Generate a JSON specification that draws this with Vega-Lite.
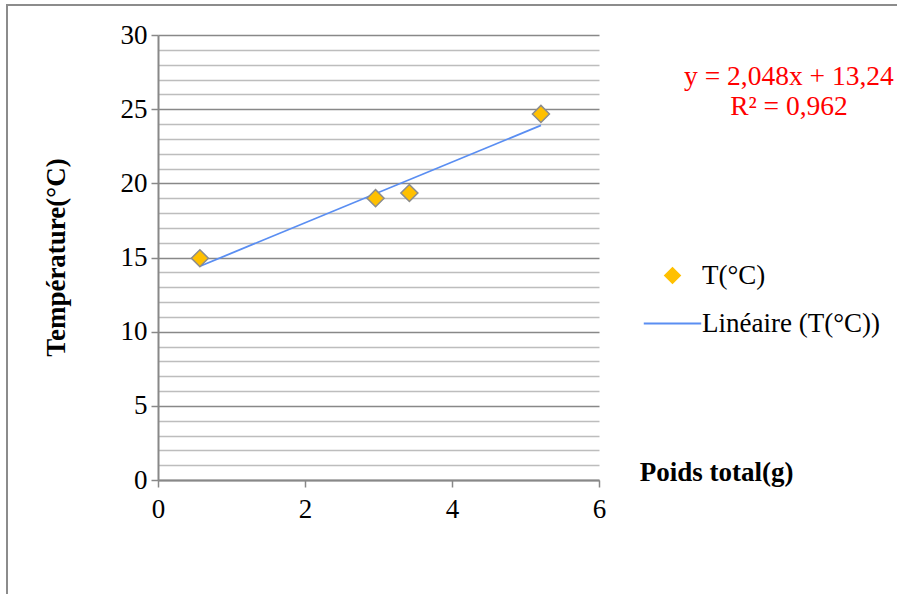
{
  "$schema": "https://vega.github.io/schema/vega-lite/v6.json",
  "width": 895,
  "height": 591,
  "autosize": {"type": "none"},
  "padding": {"left": 7, "top": 5, "right": 0, "bottom": 0},
  "background": "white",
  "config": {
    "view": {"stroke": "#8C8C8C", "strokeWidth": 2},
    "font": "Liberation Serif",
    "axis": {"labelFont": "Liberation Serif", "titleFont": "Liberation Serif", "labelFlush": false},
    "legend": {"labelFont": "Liberation Serif"},
    "text": {"font": "Liberation Serif"}
  },
  "datasets": {
    "points": [
      {"series": "T(°C)", "x": 0.57, "y": 14.95},
      {"series": "T(°C)", "x": 2.96, "y": 19.0},
      {"series": "T(°C)", "x": 3.42, "y": 19.35},
      {"series": "T(°C)", "x": 5.21, "y": 24.68}
    ],
    "trend": [
      {"series": "Linéaire (T(°C))", "x": 0.57, "y": 14.41},
      {"series": "Linéaire (T(°C))", "x": 5.21, "y": 23.91}
    ],
    "eq": [
      {"x": 8.585, "y": 27.17, "label": "y = 2,048x + 13,24\nR² = 0,962"}
    ]
  },
  "encoding": {
    "x": {
      "field": "x", "type": "quantitative",
      "scale": {"domain": [0, 6], "range": [151, 592], "nice": false, "zero": false},
      "axis": {
        "orient": "bottom", "offset": -116, "values": [0, 2, 4, 6], "format": "d", "grid": false,
        "domainColor": "#888888", "domainWidth": 2,
        "tickColor": "#888888", "tickSize": 7, "tickWidth": 1.5,
        "labelFont": "Liberation Serif", "labelFontSize": 27, "labelColor": "black", "labelPadding": 9,
        "labelOverlap": false, "labelFlush": false,
        "title": "Poids total(g)", "titleFont": "Liberation Serif", "titleFontSize": 27,
        "titleFontWeight": "bold", "titleColor": "black",
        "titleX": 709, "titleY": -8, "titleAlign": "center", "titleBaseline": "middle", "titleAngle": 0
      }
    },
    "y": {
      "field": "y", "type": "quantitative",
      "scale": {"domain": [0, 30], "range": [475, 30], "nice": false, "zero": false},
      "axis": {
        "orient": "left", "offset": -151,
        "values": [0,1,2,3,4,5,6,7,8,9,10,11,12,13,14,15,16,17,18,19,20,21,22,23,24,25,26,27,28,29,30],
        "format": "d",
        "grid": true,
        "gridColor": {"condition": {"test": "datum.value % 5 === 0", "value": "#888888"}, "value": "#BDBDBD"},
        "gridWidth": 1.6,
        "domainColor": "#888888", "domainWidth": 2,
        "tickColor": "#888888", "tickSize": 7, "tickWidth": 1.5,
        "tickOpacity": {"condition": {"test": "datum.value % 5 === 0", "value": 1}, "value": 0},
        "labelExpr": "datum.value % 5 === 0 ? datum.label : ''",
        "labelFont": "Liberation Serif", "labelFontSize": 27, "labelColor": "black", "labelPadding": 4,
        "labelOverlap": false, "labelFlush": false,
        "title": "Température(°C)", "titleFont": "Liberation Serif", "titleFontSize": 27,
        "titleFontWeight": "bold", "titleColor": "black",
        "titleX": -102, "titleY": 252, "titleAngle": 270, "titleAlign": "center", "titleBaseline": "middle"
      }
    }
  },
  "layer": [
    {
      "data": {"name": "trend"},
      "mark": {"type": "line", "strokeWidth": 1.8},
      "encoding": {
        "color": {
          "field": "series", "type": "nominal",
          "scale": {"domain": ["T(°C)", "Linéaire (T(°C))"], "range": ["#FFC000", "#5A8EF2"]},
          "legend": {
            "title": null, "orient": "none", "legendX": 652, "legendY": 257,
            "padding": 0, "symbolSize": 2704, "labelOffset": 16, "rowPadding": 20,
            "labelFont": "Liberation Serif", "labelFontSize": 27, "labelColor": "black",
            "labelLimit": 400,
            "encode": {
              "symbols": {
                "update": {
                  "shape": {"signal": "datum.value === 'T(°C)' ? 'diamond' : 'stroke'"},
                  "size": {"signal": "datum.value === 'T(°C)' ? 240 : 3300"},
                  "fill": {"signal": "datum.value === 'T(°C)' ? '#FFC000' : 'transparent'"},
                  "stroke": {"signal": "datum.value === 'T(°C)' ? '#8C8C8C' : '#5A8EF2'"},
                  "strokeWidth": {"signal": "datum.value === 'T(°C)' ? 1.5 : 2"},
                  "opacity": {"value": 1}
                }
              }
            }
          }
        }
      }
    },
    {
      "data": {"name": "points"},
      "mark": {"type": "point", "shape": "diamond", "filled": true, "size": 290, "stroke": "#8C8C8C", "strokeWidth": 1.5, "opacity": 1},
      "encoding": {
        "color": {"field": "series", "type": "nominal"}
      }
    },
    {
      "data": {"name": "eq"},
      "mark": {"type": "text", "color": "#FF0000", "font": "Liberation Serif", "fontSize": 27.5, "lineBreak": "\n", "lineHeight": 30, "align": "center", "baseline": "middle"},
      "encoding": {
        "text": {"field": "label"}
      }
    }
  ]
}
